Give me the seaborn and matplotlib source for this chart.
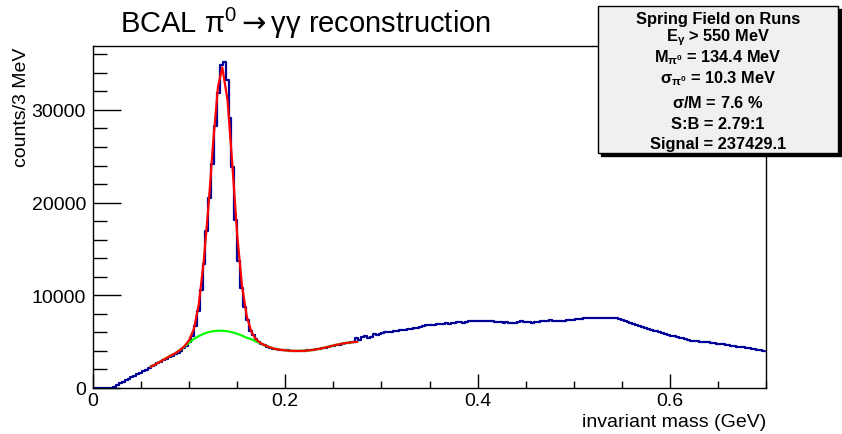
import numpy as np
import pandas as pd
import matplotlib
matplotlib.use('Agg')
import matplotlib.pyplot as plt
from matplotlib.patches import Rectangle
from matplotlib.ticker import MultipleLocator
import seaborn as sns

# invariant mass histogram, 3 MeV bins from 0 to 0.699 GeV
bin_width = 0.003
counts = [
    0, 0, 0, 0, 0, 0, 20, 150, 330, 520,
    700, 850, 980, 1150, 1310, 1480, 1660, 1800, 1980, 2150,
    2350, 2470, 2650, 2800, 2980, 3150, 3350, 3480, 3620, 3800,
    4000, 4300, 4550, 5000, 5600, 6700, 8300, 10600, 13400, 16900,
    20500, 24200, 28300, 31800, 34800, 35200, 33200, 29100, 23800, 18100,
    13700, 10800, 8700, 7300, 6200, 5700, 5300, 5000, 4750, 4600,
    4450, 4350, 4250, 4180, 4150, 4120, 4080, 4050, 4020, 4000,
    4010, 3990, 4020, 4030, 4060, 4100, 4150, 4200, 4240, 4300,
    4350, 4420, 4480, 4560, 4620, 4680, 4750, 4830, 4880, 4920,
    4950, 5350, 5200, 5450, 5600, 5400, 5550, 5800, 5700, 5850,
    5950, 6000, 6050, 6000, 6150, 6200, 6250, 6250, 6300, 6380,
    6400, 6450, 6500, 6600, 6700, 6750, 6800, 6780, 6850, 6900,
    6880, 6950, 7000, 6950, 7050, 7000, 7080, 7100, 7050, 7150,
    7200, 7180, 7200, 7220, 7200, 7250, 7200, 7180, 7230, 7150,
    7100, 7120, 7050, 7080, 6980, 7000, 7050, 7150, 7200, 7100,
    7080, 7100, 7050, 7120, 7100, 7200, 7250, 7200, 7300, 7280,
    7250, 7200, 7230, 7250, 7300, 7350, 7320, 7400, 7450, 7480,
    7500, 7520, 7550, 7560, 7550, 7570, 7560, 7550, 7530, 7550,
    7580, 7500, 7400, 7300, 7200, 7100, 6980, 6900, 6800, 6720,
    6600, 6480, 6400, 6300, 6200, 6150, 6050, 5950, 5850, 5750,
    5650, 5600, 5500, 5400, 5350, 5250, 5180, 5120, 5080, 5050,
    5000, 4980, 4950, 4920, 4900, 4850, 4800, 4720, 4700, 4650,
    4600, 4550, 4500, 4450, 4400, 4380, 4320, 4280, 4250, 4200,
    4150, 4080, 4000,
]

# fit curves (signal + background, background only)
fit_x = [0.060, 0.065, 0.070, 0.075, 0.080, 0.085, 0.090, 0.095, 0.100, 0.105,
         0.110, 0.115, 0.120, 0.125, 0.130, 0.1345, 0.140, 0.145, 0.150, 0.155,
         0.160, 0.165, 0.170, 0.175, 0.180, 0.185, 0.190, 0.195, 0.200, 0.205,
         0.210, 0.215, 0.220, 0.225, 0.230, 0.235, 0.240, 0.245, 0.250, 0.255,
         0.260, 0.265, 0.270, 0.275]
fit_total = [2300, 2550, 2850, 3150, 3450, 3720, 4050, 4500, 5150, 6400,
             9000, 13500, 19500, 26500, 32500, 34600, 31000, 24000, 16500, 11000,
             7700, 6000, 5200, 4800, 4550, 4350, 4200, 4120, 4060, 4020,
             4000, 4000, 4020, 4060, 4130, 4220, 4330, 4450, 4580, 4700,
             4800, 4880, 4940, 4980]
fit_bkg = [2300, 2550, 2850, 3150, 3450, 3720, 4050, 4450, 4900, 5300,
           5600, 5850, 6020, 6130, 6180, 6180, 6120, 6000, 5850, 5650,
           5420, 5250, 5000, 4780, 4550, 4350, 4200, 4120, 4060, 4020,
           4000, 4000, 4020, 4060, 4130, 4220, 4330, 4450, 4580, 4700,
           4800, 4880, 4940, 4980]

stats_lines = [
    "Spring Field on Runs",
    r"E$_{\gamma}$ > 550 MeV",
    r"M$_{\pi^{0}}$ = 134.4 MeV",
    r"$\sigma_{\pi^{0}}$ = 10.3 MeV",
    r"$\sigma$/M = 7.6 %",
    "S:B = 2.79:1",
    "Signal = 237429.1",
]

sns.set_style('ticks')
plt.rcParams['font.family'] = ['Liberation Sans', 'DejaVu Sans']
plt.rcParams['mathtext.fontset'] = 'custom'
plt.rcParams['mathtext.rm'] = 'Liberation Sans'
plt.rcParams['mathtext.it'] = 'Liberation Sans:italic'
plt.rcParams['mathtext.bf'] = 'Liberation Sans:bold'
plt.rcParams['mathtext.sf'] = 'DejaVu Sans'
plt.rcParams['mathtext.default'] = 'regular'
for key in ['text.color', 'axes.labelcolor', 'xtick.color', 'ytick.color', 'axes.edgecolor']:
    plt.rcParams[key] = 'black'

n = len(counts)
edges = [round(i * bin_width, 6) for i in range(n + 1)]
centers = [e + bin_width / 2 for e in edges[:-1]]
hist_df = pd.DataFrame({'mass': centers, 'counts': counts})
fit_df = pd.DataFrame({'mass': fit_x, 'total': fit_total, 'bkg': fit_bkg})

W, H = 842, 435
fig = plt.figure(figsize=(W / 100, H / 100), dpi=100)
ax = fig.add_axes([93 / W, 1 - 389 / H, (766 - 93) / W, (389 - 47) / H])

sns.histplot(data=hist_df, x='mass', weights='counts', bins=edges,
             element='step', fill=False, color='#000099', linewidth=1.6, ax=ax)
sns.lineplot(data=fit_df, x='mass', y='bkg', color='#00ff00', linewidth=1.6, ax=ax)
sns.lineplot(data=fit_df, x='mass', y='total', color='#ff0000', linewidth=1.6, ax=ax)

ax.set_xlim(0, 0.7)
ax.set_ylim(0, 36900)
ax.set_xlabel('')
ax.set_ylabel('')
ax.xaxis.set_minor_locator(MultipleLocator(0.05))
ax.yaxis.set_minor_locator(MultipleLocator(2000))
ax.set_xticks([0, 0.2, 0.4, 0.6])
ax.set_xticklabels(['0', '0.2', '0.4', '0.6'])
ax.set_yticks([0, 10000, 20000, 30000])
ax.set_yticklabels(['0', '10000', '20000', '30000'])
ax.tick_params(which='both', bottom=True, left=True, top=False, right=False, color='black')
ax.tick_params(axis='x', which='major', direction='in', length=10, width=1, labelsize=14, pad=3)
ax.tick_params(axis='x', which='minor', direction='in', length=5, width=1)
ax.tick_params(axis='y', which='major', direction='in', length=20, width=1, labelsize=14, pad=5)
ax.tick_params(axis='y', which='minor', direction='in', length=10, width=1)
for s in ax.spines.values():
    s.set_visible(True)
    s.set_color('black')
    s.set_linewidth(1)

fig.text(120 / W, 1 - 33 / H, r'BCAL $\pi^{0}\mathsf{\rightarrow}\gamma\gamma$ reconstruction',
         fontsize=21, ha='left', va='baseline')
fig.text(22 / W, 1 - 48 / H, 'counts/3 MeV', rotation=90, fontsize=14,
         ha='center', va='top')
fig.text(766 / W, 1 - 431 / H, 'invariant mass (GeV)', fontsize=14,
         ha='right', va='bottom')

# stats box with shadow
bx0, by0, bx1, by1 = 598, 7, 838, 154
fig.patches.append(Rectangle(((bx0 + 3) / W, 1 - (by1 + 3) / H), (bx1 - bx0) / W, (by1 - by0) / H,
                             transform=fig.transFigure, facecolor='black', edgecolor='black',
                             linewidth=1, zorder=5))
fig.patches.append(Rectangle((bx0 / W, 1 - by1 / H), (bx1 - bx0) / W, (by1 - by0) / H,
                             transform=fig.transFigure, facecolor='#f0f0f0', edgecolor='black',
                             linewidth=1, zorder=6))
baselines = [24, 41, 62.5, 83.5, 108.5, 129, 148.5]
for txt, yy in zip(stats_lines, baselines):
    fig.text(718 / W, 1 - yy / H, txt, fontsize=11.8, fontweight='bold',
             ha='center', va='baseline', zorder=7)

fig.savefig('out.png', dpi=100)
